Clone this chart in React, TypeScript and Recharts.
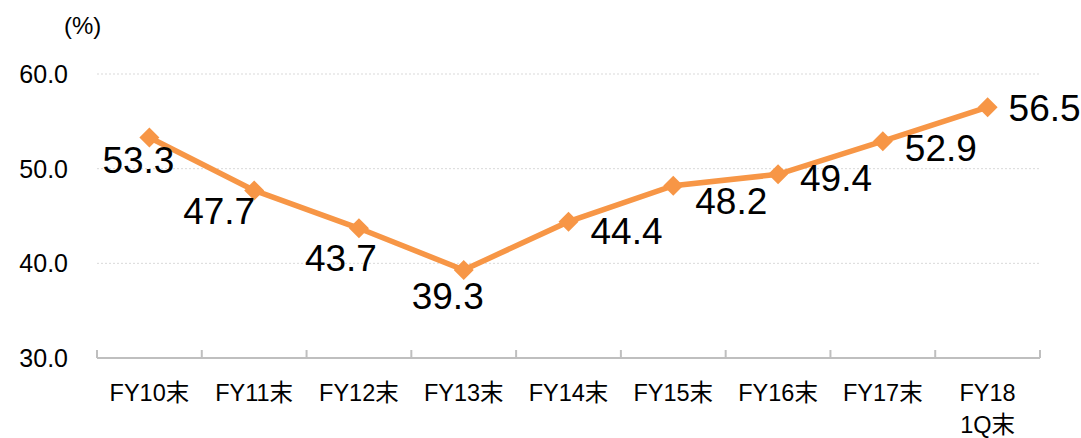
import { LineChart, Line, XAxis, YAxis, CartesianGrid, LabelList } from 'recharts';

const categories = ['FY10末', 'FY11末', 'FY12末', 'FY13末', 'FY14末', 'FY15末', 'FY16末', 'FY17末', 'FY18\n1Q末'];
const ratio = [53.3, 47.7, 43.7, 39.3, 44.4, 48.2, 49.4, 52.9, 56.5];
const yTicks = [30, 40, 50, 60];

const data = categories.map((name, i) => ({ name, value: ratio[i] }));

const ORANGE = '#F79646';
const AXIS = '#BFBFBF';
const W = 1081;
const H = 438;
const M = { top: 74, right: 41, bottom: 0, left: 0 };
const X_H = 80;
const Y_W = 97;
const BAND = (W - Y_W - M.right) / categories.length;

// label offsets from the point (centre of text)
const LABEL_OFF = [
  [-11, 23], [-35, 21], [-18, 30], [-16, 27],
  [58, 10], [58, 16], [58, 4], [58, 7], [57, 1],
];

function Diamond(props: any) {
  const { cx, cy } = props;
  const r = 10;
  return (
    <polygon
      points={`${cx},${cy - r} ${cx + r},${cy} ${cx},${cy + r} ${cx - r},${cy}`}
      fill={ORANGE}
    />
  );
}

function XTick(props: any) {
  const { x, payload, index } = props;
  const lines = String(payload.value).split('\n');
  const base = H - X_H;
  return (
    <g>
      <line x1={x - BAND / 2} x2={x - BAND / 2} y1={base - 8} y2={base} stroke={AXIS} strokeWidth={2} />
      {index === categories.length - 1 && (
        <line x1={x + BAND / 2} x2={x + BAND / 2} y1={base - 8} y2={base} stroke={AXIS} strokeWidth={2} />
      )}
      <text
        x={x}
        y={base}
        textAnchor="middle"
        fontSize={23.5}
        fontFamily="'Liberation Sans', 'Noto Sans CJK JP', sans-serif"
        fill="#000"
      >
        {lines.map((l, i) => (
          <tspan key={i} x={x} dy={i === 0 ? 43 : 32}>
            {l}
          </tspan>
        ))}
      </text>
    </g>
  );
}

function ValueLabel(props: any) {
  const { x, y, value, index } = props;
  const [dx, dy] = LABEL_OFF[index] || [0, 0];
  return (
    <text
      x={x + dx}
      y={y + dy}
      textAnchor="middle"
      dominantBaseline="central"
      fontSize={37}
      fontFamily="'Liberation Sans Narrow', 'Liberation Sans', sans-serif"
      fill="#000"
    >
      {Number(value).toFixed(1)}
    </text>
  );
}

export default function App() {
  return (
    <div style={{ position: 'relative', width: W, height: H, background: '#fff' }}>
      <style>{`body{margin:0}`}</style>
      <div
        style={{
          position: 'absolute',
          left: 64,
          top: 12,
          fontSize: 24,
          fontFamily: "'Liberation Sans', sans-serif",
        }}
      >
        (%)
      </div>
      <LineChart width={W} height={H} data={data} margin={M}>
        <CartesianGrid vertical={false} stroke="#D9D9D9" strokeDasharray="2 2" />
        <XAxis
          dataKey="name"
          scale="band"
          stroke={AXIS}
          strokeWidth={2}
          tickLine={false}
          tickSize={0}
          tickMargin={0}
          tick={<XTick />}
          interval={0}
          height={X_H}
        />
        <YAxis
          domain={[30, 60]}
          ticks={yTicks}
          width={Y_W}
          axisLine={false}
          tickLine={false}
          tickSize={0}
          tickMargin={29}
          tickFormatter={(v: number) => v.toFixed(1)}
          tick={{ fill: '#000', fontSize: 25, fontFamily: "'Liberation Sans', sans-serif" }}
        />
        <Line
          dataKey="value"
          stroke={ORANGE}
          strokeWidth={5.5}
          dot={<Diamond />}
          activeDot={false}
          isAnimationActive={false}
        >
          <LabelList dataKey="value" content={<ValueLabel />} />
        </Line>
      </LineChart>
    </div>
  );
}
